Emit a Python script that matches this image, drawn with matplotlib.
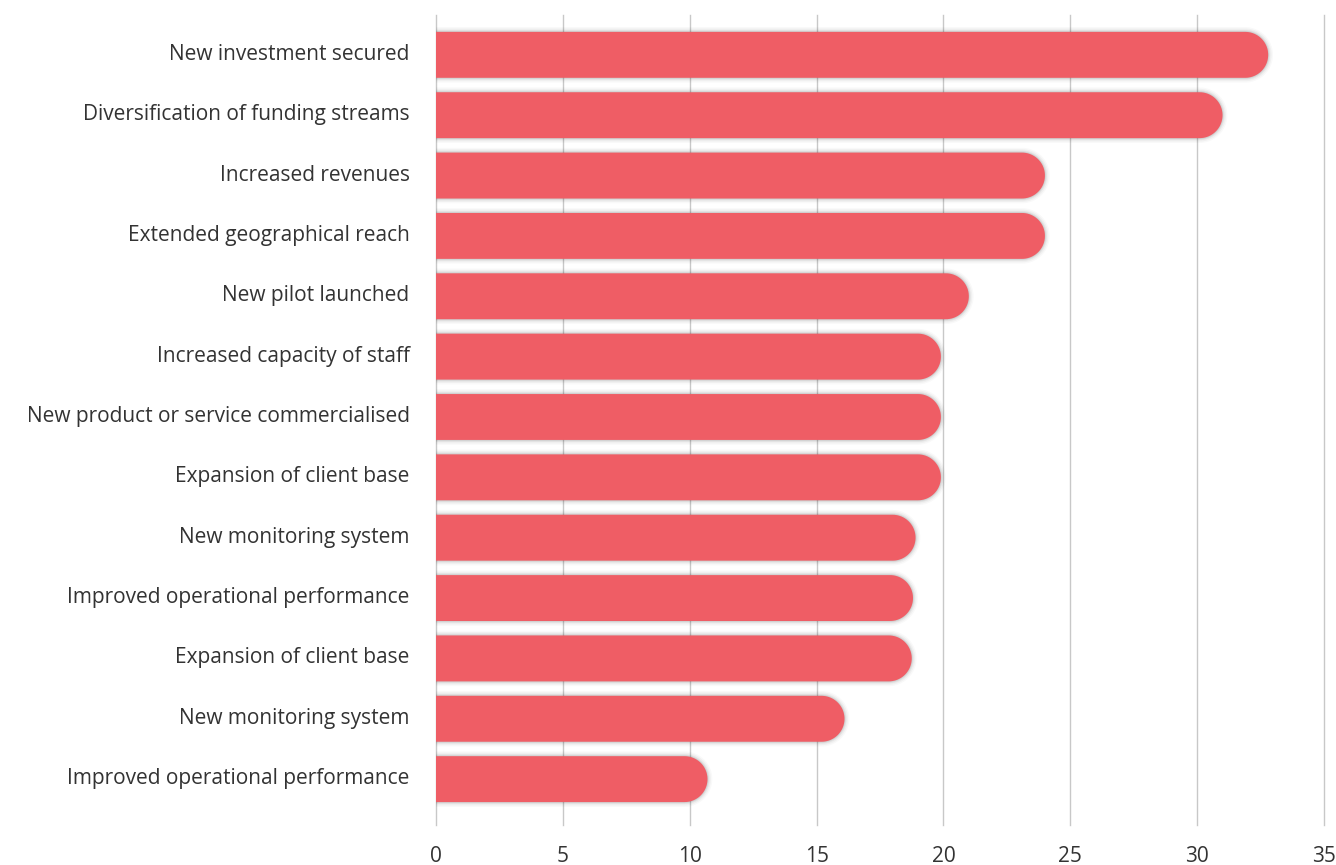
import numpy as np
import matplotlib
matplotlib.use("Agg")
import matplotlib.pyplot as plt
from matplotlib.patches import Polygon
import matplotlib.patheffects as pe
import matplotlib.transforms as mtransforms

# data (top to bottom)
labels = [
    "New investment secured",
    "Diversification of funding streams",
    "Increased revenues",
    "Extended geographical reach",
    "New pilot launched",
    "Increased capacity of staff",
    "New product or service commercialised",
    "Expansion of client base",
    "New monitoring system",
    "Improved operational performance",
    "Expansion of client base",
    "New monitoring system",
    "Improved operational performance",
]
values = [32.8, 31.0, 24.0, 24.0, 21.0, 19.9, 19.9, 19.9, 18.9, 18.8, 18.75, 16.1, 10.7]
xticks = [0, 5, 10, 15, 20, 25, 30, 35]

W, H, DPI = 1336, 865, 100
bar_color = "#EF5D65"
text_color = "#333333"
plt.rcParams['font.family'] = ['Open Sans', 'DejaVu Sans']

fig = plt.figure(figsize=(W / DPI, H / DPI), dpi=DPI)
left, right, top, bottom = 436, 1324, 15, 825
ax = fig.add_axes([left / W, (H - bottom) / H, (right - left) / W, (bottom - top) / H])

ymin, ymax = -0.66, len(values) - 1 + 0.76
ax.set_xlim(0, 35)
ax.set_ylim(ymax, ymin)

bar_h = 0.76
# radius of the rounded end in data units (x), equal to half the bar height in pixels
px_per_x = (right - left) / 35.0
px_per_y = (bottom - top) / (ymax - ymin)
rx = (bar_h / 2 * px_per_y) / px_per_x

# soft shadow round each bar
shadow = [
    pe.Stroke(linewidth=7, foreground="#000000", alpha=0.025),
    pe.Stroke(linewidth=5, foreground="#000000", alpha=0.035),
    pe.Stroke(linewidth=3, foreground="#000000", alpha=0.05),
    pe.Stroke(linewidth=1.5, foreground="#000000", alpha=0.07),
    pe.Normal(),
]

t = np.linspace(-np.pi / 2, np.pi / 2, 40)
for i, v in enumerate(values):
    yc = i
    xe = v - rx
    arc_x = xe + rx * np.cos(t)
    arc_y = yc + bar_h / 2 * np.sin(t)
    pts = [(0, yc - bar_h / 2)] + list(zip(arc_x, arc_y)) + [(0, yc + bar_h / 2)]
    poly = Polygon(pts, closed=True, facecolor=bar_color, edgecolor="none", zorder=3)
    poly.set_path_effects(shadow)
    ax.add_patch(poly)

ax.set_yticks(range(len(labels)))
ax.set_yticklabels(labels, fontsize=15, color=text_color)
ax.set_xticks(xticks)
ax.set_xticklabels([str(x) for x in xticks], fontsize=15, color=text_color)
ax.tick_params(axis="y", length=0, pad=19)
ax.tick_params(axis="x", length=0, pad=15)
# labels sit a little above the bar centres
up = mtransforms.ScaledTranslation(0, 0.03, fig.dpi_scale_trans)
for lab in ax.get_yticklabels():
    lab.set_transform(lab.get_transform() + up)
ax.grid(axis="x", color="#c8c8c8", linewidth=1)
for gl in ax.get_xgridlines():
    gl.set_clip_on(False)
ax.set_axisbelow(True)
for s in ax.spines.values():
    s.set_visible(False)

fig.savefig("out.png", dpi=DPI, facecolor="white")
